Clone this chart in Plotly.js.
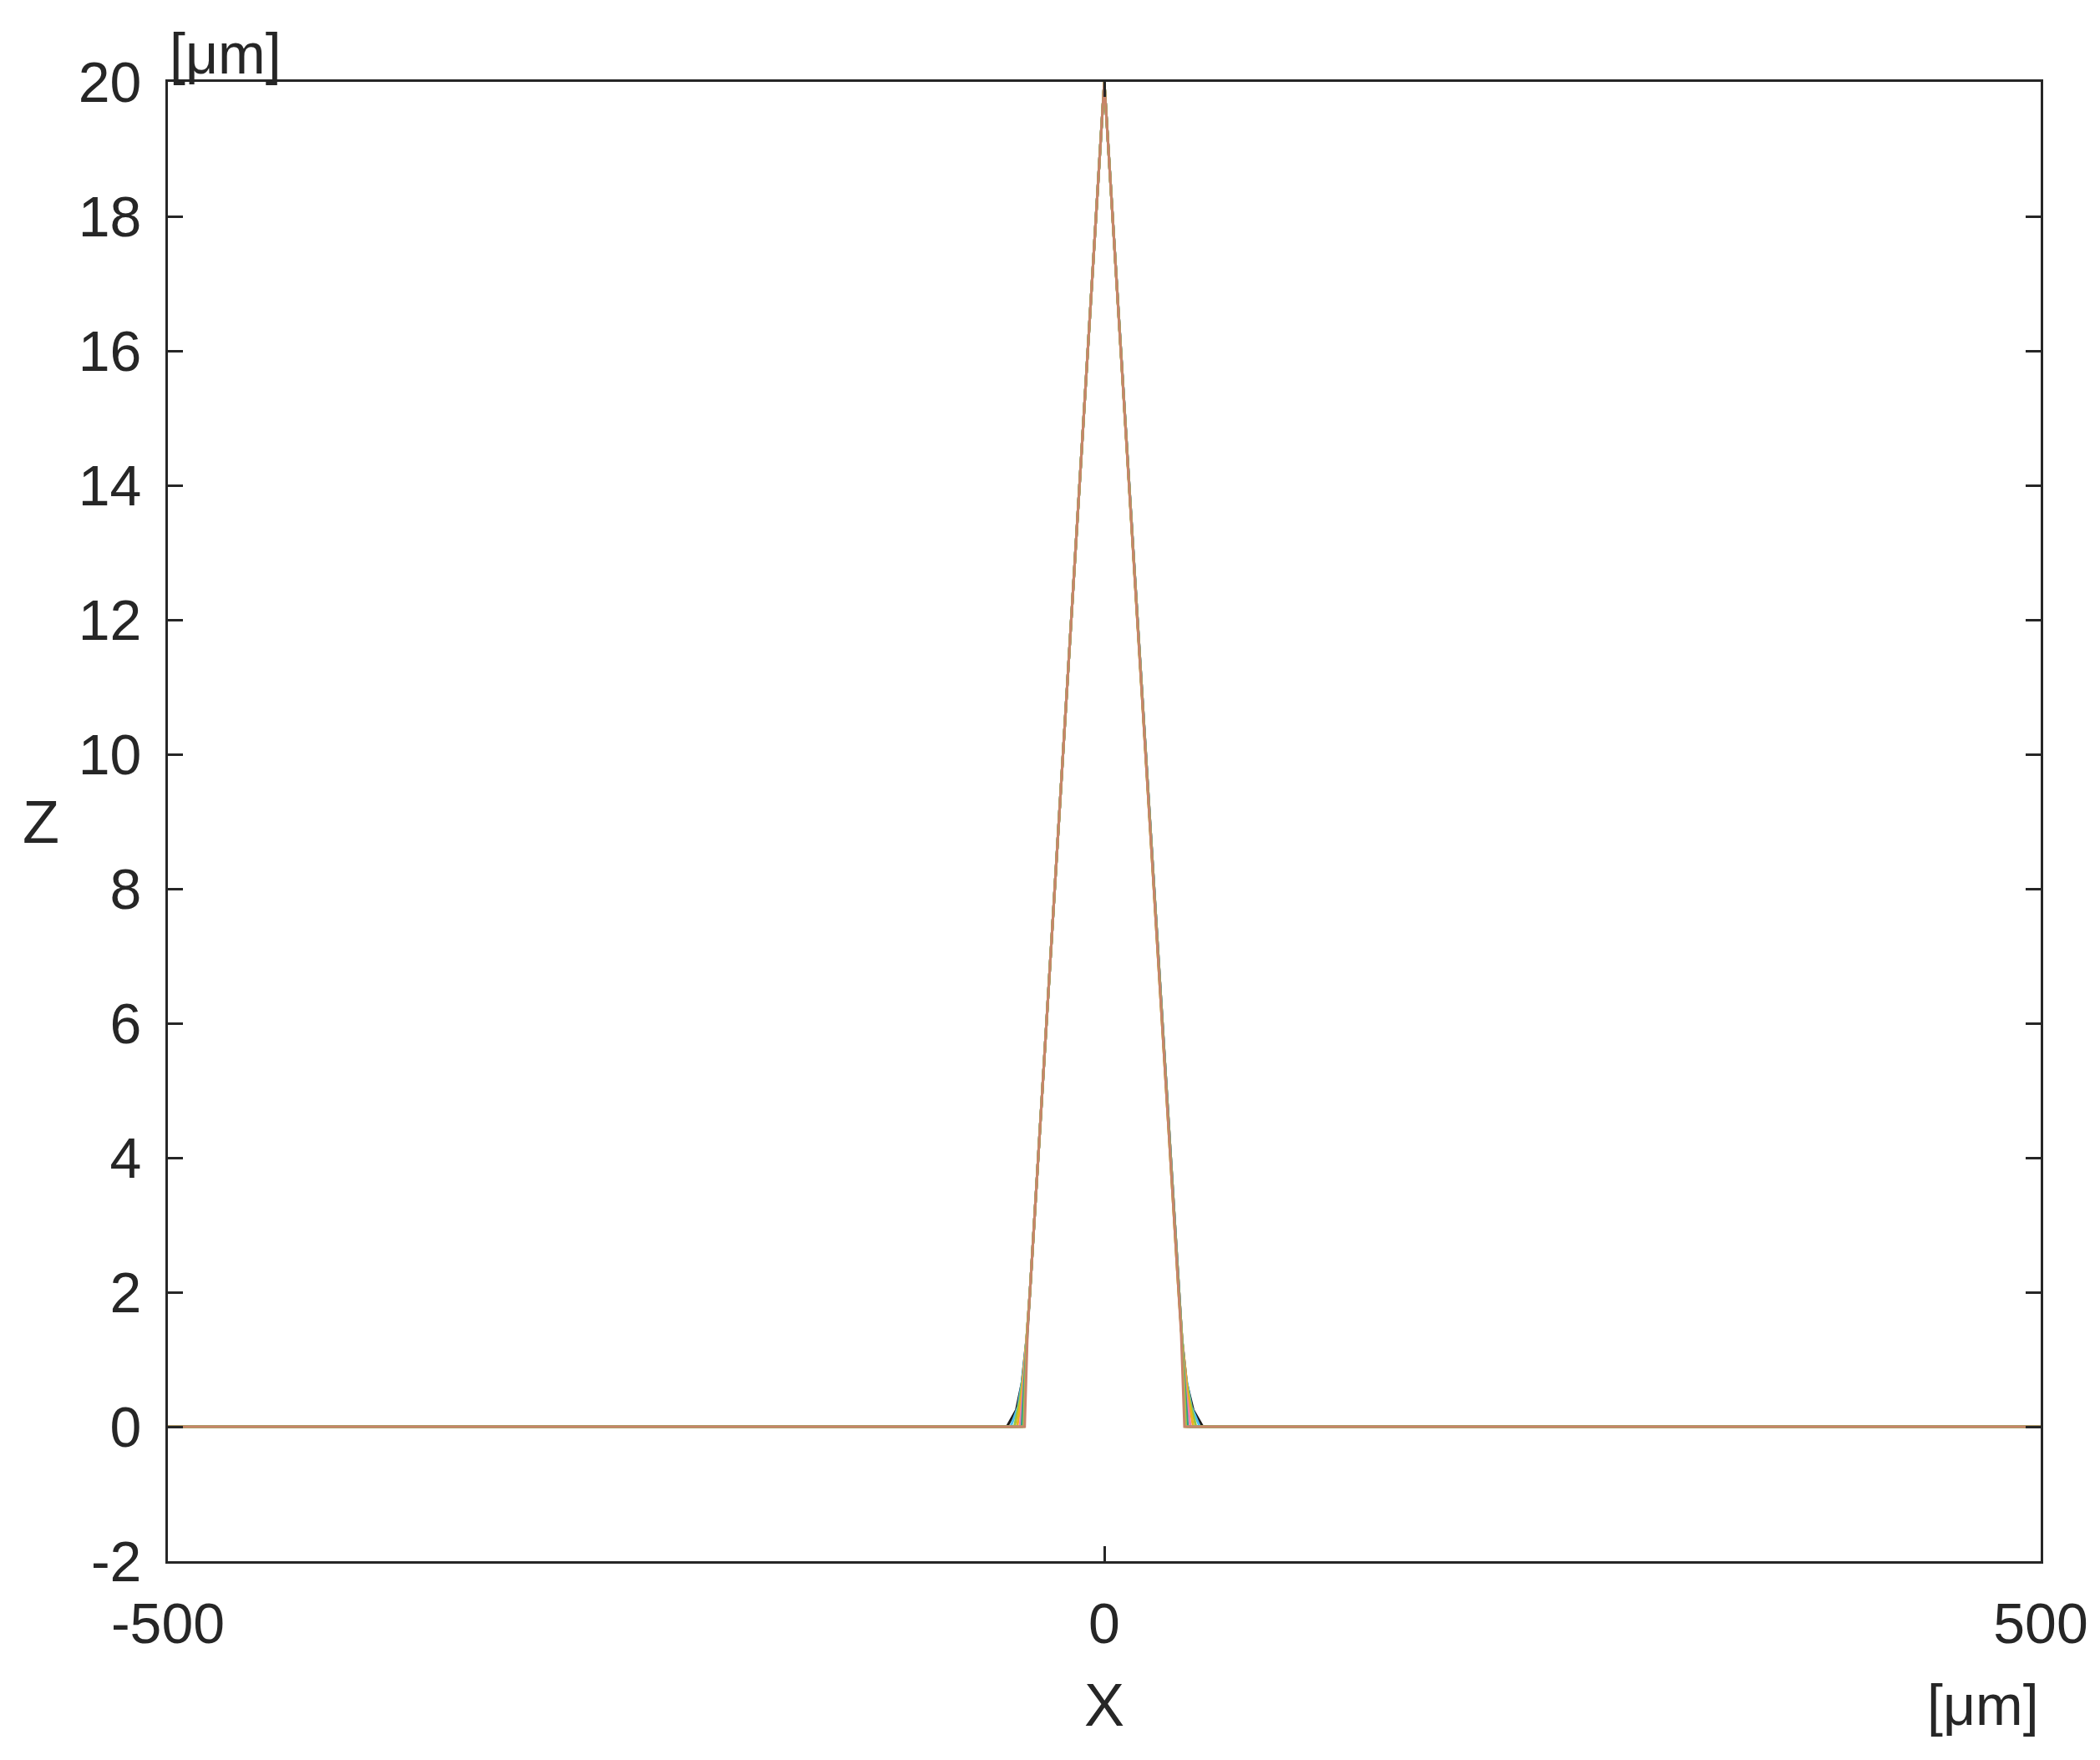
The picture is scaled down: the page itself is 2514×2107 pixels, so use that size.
<!DOCTYPE html>
<html>
<head>
<meta charset="utf-8">
<script src="https://cdn.plot.ly/plotly-3.0.1.min.js"></script>
<style>
  html, body { margin: 0; padding: 0; background: #fff; }
  #profileChart { width: 2514px; height: 2107px; }
</style>
</head>
<body>
<div id="profileChart"></div>
<script>
    // Profiles Z(X), one array pair per curve [µm]
    var x1 = [-500, -52, -47, -44, -41.5, -39.7, 0, 39.7, 41.5, 44, 47.5, 52.6, 500];
    var z1 = [0, 0, 0.25, 0.65, 1.3, 2, 20, 2, 1.3, 0.65, 0.25, 0, 0];
    var x2 = [-500, -50, -46, -43.5, -41.5, -39.7, 0, 39.7, 41.5, 43.5, 46.5, 51, 500];
    var z2 = [0, 0, 0.3, 0.75, 1.3, 2, 20, 2, 1.3, 0.75, 0.3, 0, 0];
    var x3 = [-500, -48, -45, -43, -41.5, -39.7, 0, 39.7, 41.5, 43, 45.5, 49, 500];
    var z3 = [0, 0, 0.4, 0.8, 1.3, 2, 20, 2, 1.3, 0.8, 0.4, 0, 0];
    var x4 = [-500, -46.5, -44, -41.5, -39.7, 0, 39.7, 41.5, 44.5, 47.5, 500];
    var z4 = [0, 0, 0.5, 1.3, 2, 20, 2, 1.3, 0.5, 0, 0];
    var x5 = [-500, -45, -43.3, -41.5, -39.7, 0, 39.7, 41.5, 43.5, 46, 500];
    var z5 = [0, 0, 0.55, 1.3, 2, 20, 2, 1.3, 0.55, 0, 0];
    var x6 = [-500, -44, -42.8, -41.3, -39.7, 0, 39.7, 41.3, 43, 44.5, 500];
    var z6 = [0, 0, 0.6, 1.35, 2, 20, 2, 1.35, 0.6, 0, 0];
    var x7 = [-500, -43, -42.2, -41.2, -39.7, 0, 39.7, 41.2, 42.5, 43.5, 500];
    var z7 = [0, 0, 0.65, 1.4, 2, 20, 2, 1.4, 0.65, 0, 0];
    var x8 = [-500, -42.5, -41, -39.7, 0, 39.7, 41, 42.8, 500];
    var z8 = [0, 0, 1.4, 2, 20, 2, 1.4, 0, 0];

    var profilesX = [x1, x2, x3, x4, x5, x6, x7, x8];
    var profilesZ = [z1, z2, z3, z4, z5, z6, z7, z8];
    var lineColors = ['#1a1a1a', '#4DBEEE', '#9AC83A', '#EDB120', '#F07FB0', '#2CA089', '#B0C840', '#C8846A'];

    var xTicks = [-500, 0, 500];
    var yTicks = [-2, 0, 2, 4, 6, 8, 10, 12, 14, 16, 18, 20];

    var textColor = '#262626';
    var fontFace = '"Liberation Sans", Arial, Helvetica, sans-serif';

    var traces = profilesX.map(function(xs, i) {
        return {
            x: xs,
            y: profilesZ[i],
            type: 'scatter',
            mode: 'lines',
            line: { color: lineColors[i], width: 3 },
            hoverinfo: 'skip'
        };
    });

    var layout = {
        width: 2514,
        height: 2107,
        margin: { t: 98, r: 71, b: 238, l: 201 },
        showlegend: false,
        paper_bgcolor: '#ffffff',
        plot_bgcolor: '#ffffff',
        font: { family: fontFace, size: 68, color: textColor },
        xaxis: {
            range: [-500, 500],
            tickvals: xTicks,
            ticktext: xTicks.map(String),
            ticks: 'inside',
            ticklen: 18,
            tickwidth: 3,
            tickcolor: textColor,
            ticklabelstandoff: 13,
            showline: true,
            linecolor: textColor,
            linewidth: 3,
            mirror: 'ticks',
            showgrid: false,
            zeroline: false
        },
        yaxis: {
            range: [-2, 20],
            tickvals: yTicks,
            ticktext: yTicks.map(String),
            ticks: 'inside',
            ticklen: 18,
            tickwidth: 3,
            tickcolor: textColor,
            ticklabelstandoff: 15,
            showline: true,
            linecolor: textColor,
            linewidth: 3,
            mirror: 'ticks',
            showgrid: false,
            zeroline: false
        },
        annotations: [
            { text: 'Z', xref: 'paper', yref: 'paper', x: -0.068, y: 0.5, xanchor: 'center', yanchor: 'middle',
              showarrow: false, font: { size: 72, color: textColor } },
            { text: 'X', xref: 'paper', yref: 'paper', x: 0.5, y: -0.097, xanchor: 'center', yanchor: 'middle',
              showarrow: false, font: { size: 72, color: textColor } },
            { text: '[μm]', xref: 'paper', yref: 'paper', x: 1, y: -0.097, xanchor: 'right', yanchor: 'middle',
              showarrow: false, font: { size: 68, color: textColor } },
            { text: '[μm]', xref: 'paper', yref: 'paper', x: 0, y: 1.019, xanchor: 'left', yanchor: 'middle',
              showarrow: false, font: { size: 68, color: textColor } }
        ]
    };

    Plotly.newPlot('profileChart', traces, layout, { displayModeBar: false, staticPlot: true });
</script>
</body>
</html>
